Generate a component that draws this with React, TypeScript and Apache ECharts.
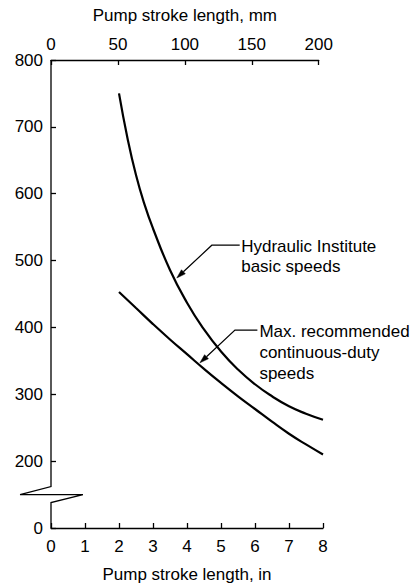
import React, { useEffect, useRef } from "react";
import * as echarts from "echarts";

const inchesHI = [2, 2.25, 2.5, 2.75, 3, 3.5, 4, 4.5, 5, 5.5, 6, 6.5, 7, 7.5, 8];
const hydraulicInstitute = [750, 683, 628, 584, 548, 486, 437, 397, 364, 337, 315, 297, 282, 271, 262];
const inchesCD = [2, 2.5, 3, 3.5, 4, 4.5, 5, 5.5, 6, 6.5, 7, 7.5, 8];
const continuousDuty = [453, 429, 405, 382, 360, 338, 317, 297, 278, 259, 241, 225, 210];

const inchTicks = [0, 1, 2, 3, 4, 5, 6, 7, 8];
const mmTicks = [0, 50, 100, 150, 200];
const speedTicks = ["0", "200", "300", "400", "500", "600", "700", "800"];

const annoHI = { text: "Hydraulic Institute\nbasic speeds", tip: [3.7, 474], knee: [4.73, 523], end: [5.55, 523] };
const annoCD = { text: "Max. recommended\ncontinuous-duty\nspeeds", tip: [4.38, 347], knee: [5.41, 396], end: [6.07, 396] };

const FONT = "'Liberation Sans', Arial, sans-serif";
const FS = 17;

export default function App() {
  const ref = useRef<HTMLDivElement>(null);
  useEffect(() => {
    const el = ref.current!;
    const chart = echarts.init(el, null, { renderer: "svg" });
    const gridLeft = 51, gridTop = 60, gridRight = 95, gridBottom = 52;
    const plotW = 418 - gridLeft - gridRight;
    const mmW = (plotW * 200) / (8 * 25.4);
    const labelStyle = { color: "#000", fontSize: FS, fontFamily: FONT };
    const option: any = {
      animation: false,
      grid: [
        { left: gridLeft, top: gridTop, right: gridRight, bottom: gridBottom },
        { left: gridLeft, top: gridTop, width: mmW, bottom: gridBottom },
      ],
      xAxis: [
        {
          type: "value", gridIndex: 0, min: inchTicks[0], max: inchTicks[inchTicks.length - 1], interval: 1,
          position: "bottom",
          name: "Pump stroke length, in", nameLocation: "middle", nameGap: 38,
          nameTextStyle: { color: "#000", fontSize: FS, fontFamily: FONT },
          axisLine: { show: true, lineStyle: { color: "#000", width: 1.3 } },
          axisTick: { show: true, inside: true, length: 5, lineStyle: { color: "#000", width: 1.3 } },
          axisLabel: { ...labelStyle, margin: 10 },
          splitLine: { show: false },
        },
        {
          type: "value", gridIndex: 1, min: mmTicks[0], max: mmTicks[mmTicks.length - 1], interval: 50,
          position: "top",
          name: "Pump stroke length, mm", nameLocation: "middle", nameGap: 36,
          nameTextStyle: { color: "#000", fontSize: FS, fontFamily: FONT },
          axisLine: { show: true, lineStyle: { color: "#000", width: 1.3 } },
          axisTick: { show: true, inside: true, length: 5, lineStyle: { color: "#000", width: 1.3 } },
          axisLabel: { ...labelStyle, margin: 7 },
          splitLine: { show: false },
        },
      ],
      yAxis: [
        {
          type: "value", gridIndex: 0, min: 100, max: 800, interval: 100,
          axisLine: { show: false },
          axisTick: { show: true, inside: true, length: 5, lineStyle: { color: "#000", width: 1.3 } },
          axisLabel: {
            ...labelStyle, margin: 8,
            formatter: (v: number) => {
              const i = Math.round(v / 100) - 1;
              return speedTicks[i] ?? "";
            },
          },
          splitLine: { show: false },
        },
        { type: "value", gridIndex: 1, show: false, min: 100, max: 800 },
      ],
      series: [
        {
          type: "line", xAxisIndex: 0, yAxisIndex: 0, smooth: 0.5, symbol: "none",
          data: inchesHI.map((x, i) => [x, hydraulicInstitute[i]]),
          lineStyle: { color: "#000", width: 2.2 },
        },
        {
          type: "line", xAxisIndex: 0, yAxisIndex: 0, smooth: 0.5, symbol: "none",
          data: inchesCD.map((x, i) => [x, continuousDuty[i]]),
          lineStyle: { color: "#000", width: 2.2 },
        },
      ],
    };
    chart.setOption(option);

    const px = (p: number[]) => chart.convertToPixel({ xAxisIndex: 0, yAxisIndex: 0 }, p) as number[];
    const lineStyle = { stroke: "#000", lineWidth: 1.2, fill: null };
    const graphics: any[] = [];

    // y axis with break
    const top = px([0, 800]);
    const b1 = px([0, 162]);
    const bl = px([-0.91, 150]);
    const br = px([0.94, 150]);
    const b2 = px([0, 138]);
    const bottom = px([0, 100]);
    graphics.push({
      type: "polyline",
      shape: { points: [top, b1, bl, br, b2, bottom] },
      style: { stroke: "#000", lineWidth: 1.3, fill: null },
    });

    const addAnno = (a: any, lineHeight: number, gap: number) => {
      const tip = px(a.tip), knee = px(a.knee), end = px(a.end);
      const dx = tip[0] - knee[0], dy = tip[1] - knee[1];
      const len = Math.hypot(dx, dy);
      const ux = dx / len, uy = dy / len;
      const L = 9, w = 2.8;
      const base = [tip[0] - ux * L, tip[1] - uy * L];
      graphics.push({ type: "polyline", shape: { points: [end, knee, base] }, style: lineStyle });
      graphics.push({
        type: "polygon",
        shape: { points: [tip, [base[0] - uy * w, base[1] + ux * w], [base[0] + uy * w, base[1] - ux * w]] },
        style: { fill: "#000", stroke: "#000", lineWidth: 0.5 },
      });
      graphics.push({
        type: "text",
        x: end[0] + gap,
        y: end[1] - lineHeight / 2 + 1,
        style: {
          text: a.text, fill: "#000", font: `${FS}px ${FONT}`,
          align: "left", verticalAlign: "top", lineHeight,
        },
      });
    };
    addAnno(annoHI, 20.5, 1.5);
    addAnno(annoCD, 21, 2);

    chart.setOption({ graphic: graphics });
    return () => chart.dispose();
  }, []);
  return <div ref={ref} style={{ position: "absolute", left: 0, top: 0, width: 418, height: 588 }} />;
}
